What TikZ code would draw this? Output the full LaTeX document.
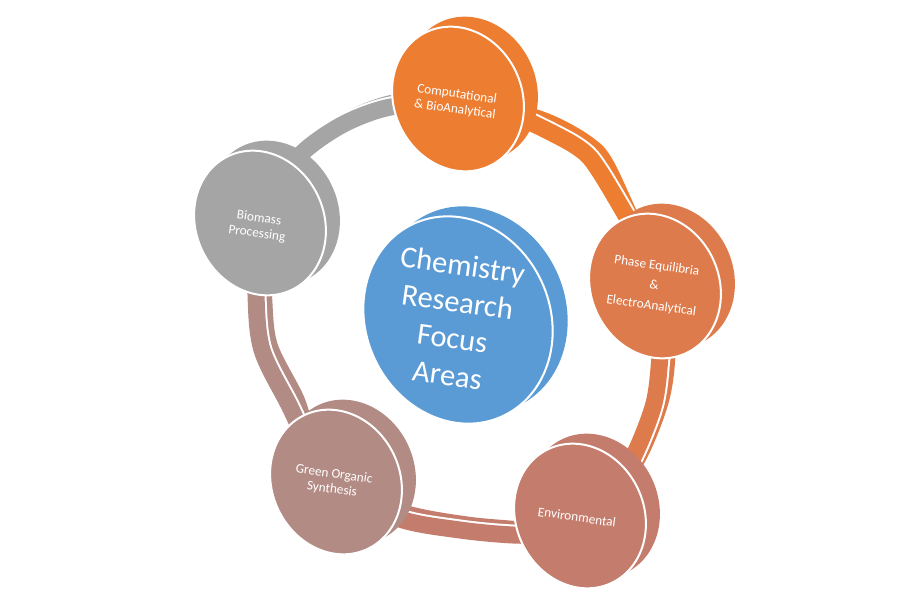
\documentclass[tikz,border=0pt]{standalone}
\usepackage{fontspec}
\setmainfont{Carlito}
\usetikzlibrary{shapes.geometric}
\definecolor{cComp}{HTML}{ED7D31}
\definecolor{cPhase}{RGB}{222,123,76}
\definecolor{cEnv}{RGB}{196,124,109}
\definecolor{cGreen}{RGB}{179,139,133}
\definecolor{cBio}{HTML}{A5A5A5}
\definecolor{cBlue}{HTML}{5B9BD5}
\newcommand\ringseg[2]{%
  \draw[ringband, draw=#1, shift={(7,-5)}] plot[smooth, tension=0.55] coordinates {#2};
  \draw[ringgap] plot[smooth, tension=0.55] coordinates {#2};
  \draw[ringband, draw=#1] plot[smooth, tension=0.55] coordinates {#2};}
\begin{document}
\begin{tikzpicture}[x=1pt,y=-1pt,
  disc/.style={ellipse, inner sep=0pt, minimum width=128pt, minimum height=148pt, rotate=25},
  bigdisc/.style={ellipse, inner sep=0pt, minimum width=184pt, minimum height=212pt, rotate=25},
  backface/.style={fill=#1, draw=none},
  frontface/.style={fill=#1, draw=white, line width=2pt},
  ringband/.style={line width=17pt},
  ringgap/.style={draw=white, line width=21pt},
  lbl/.style={text=white, align=center, rotate=-8, font=\fontsize{13.3}{15.5}\selectfont},
  biglbl/.style={text=white, align=center, rotate=-8, font=\fontsize{30.5}{37}\selectfont}]
\useasboundingbox[fill=white] (0,0) rectangle (909,602);

% disc centres
\coordinate (pComp) at (458,99);
\coordinate (pPhase) at (655,286);
\coordinate (pEnv) at (580,516);
\coordinate (pGreen) at (336,482);
\coordinate (pBio) at (260,223);

% ring waypoints (segment ends lie hidden under the discs)
\coordinate (a0) at (268,198);  \coordinate (a4) at (430,101);
\coordinate (b0) at (490,104);  \coordinate (b4) at (640,240);
\coordinate (c0) at (662,320);  \coordinate (c5) at (600,500);
\coordinate (d0) at (560,535);  \coordinate (d4) at (350,492);
\coordinate (e0) at (310,450);  \coordinate (e4) at (258,250);

% ring segments
\ringseg{cBio}{(a0) (300,155) (340,126) (382,109) (a4)}
\ringseg{cComp}{(b0) (540,127) (580,149) (600,172) (b4)}
\ringseg{cPhase}{(c0) (660,357) (653,407) (628,467) (c5)}
\ringseg{cEnv}{(d0) (513,535) (460,530) (400,519) (d4)}
\ringseg{cGreen}{(e0) (290,407) (262,350) (256,295) (e4)}

% discs: back faces then front faces
\node[disc, backface=cComp] (compB) at (472,89) {};
\node[disc, frontface=cComp] (comp) at (pComp) {};
\node[disc, backface=cPhase] (phaseB) at (669,276) {};
\node[disc, frontface=cPhase] (phase) at (pPhase) {};
\node[disc, backface=cEnv] (envB) at (594,506) {};
\node[disc, frontface=cEnv] (env) at (pEnv) {};
\node[disc, backface=cGreen] (greenB) at (350,472) {};
\node[disc, frontface=cGreen] (green) at (pGreen) {};
\node[disc, backface=cBio] (bioB) at (274,213) {};
\node[disc, frontface=cBio] (bio) at (pBio) {};
\node[bigdisc, backface=cBlue] (hubB) at (473,310) {};
\node[bigdisc, frontface=cBlue] (hub) at (458,320) {};

% labels
\node[lbl] (compT) at (456,102) {Computational\\\& BioAnalytical};
\node[lbl, font=\fontsize{13.3}{20}\selectfont] (phaseT) at (654,286) {Phase Equilibria\\\&\\ElectroAnalytical};
\node[lbl] (envT) at (577,517) {Environmental};
\node[lbl] (greenT) at (333,482) {Green Organic\\Synthesis};
\node[lbl] (bioT) at (258,226) {Biomass\\Processing};
\node[biglbl] (hubT) at (455,320) {Chemistry\\Research\\Focus\\Areas};
\end{tikzpicture}
\end{document}
